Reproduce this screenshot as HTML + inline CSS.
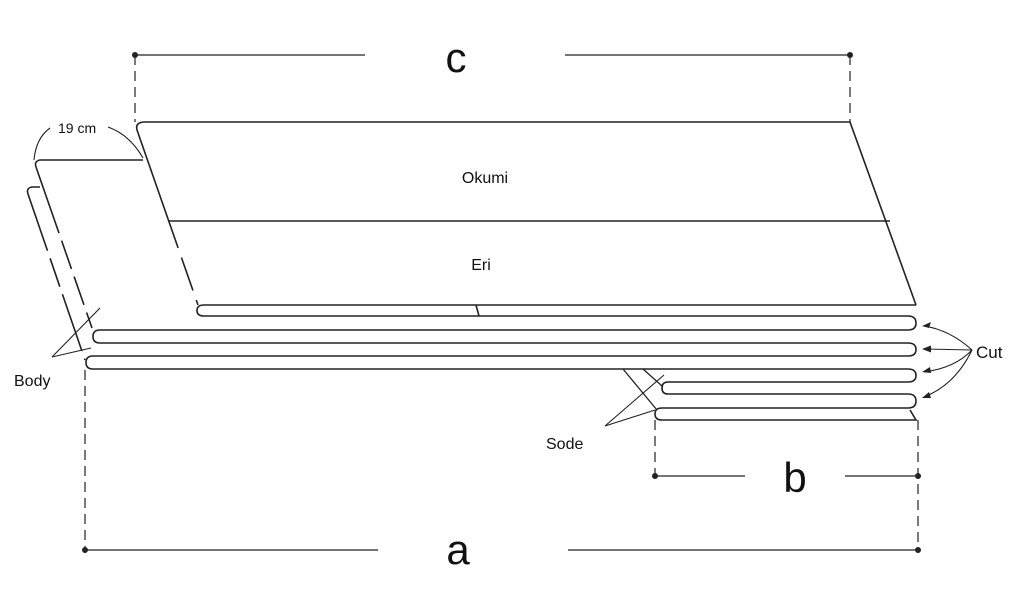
<!DOCTYPE html>
<html><head><meta charset="utf-8"><style>
html,body{margin:0;padding:0;background:#fff;width:1024px;height:609px;overflow:hidden}
svg{display:block}
text{font-family:"Liberation Sans",sans-serif;fill:#111}
</style></head><body>
<svg width="1024" height="609" viewBox="0 0 1024 609" xmlns="http://www.w3.org/2000/svg">
<g stroke="#222" fill="none" stroke-width="1.6">
<line x1="135" y1="55" x2="365" y2="55" stroke-width="1.2"/>
<line x1="565" y1="55" x2="850" y2="55" stroke-width="1.2"/>
<line x1="135" y1="55" x2="135" y2="122" stroke-dasharray="10,6" stroke-width="1.2"/>
<line x1="850" y1="55" x2="850" y2="122" stroke-dasharray="10,6" stroke-width="1.2"/>
<line x1="85" y1="550" x2="378" y2="550" stroke-width="1.2"/>
<line x1="568" y1="550" x2="918" y2="550" stroke-width="1.2"/>
<line x1="85" y1="370" x2="85" y2="550" stroke-dasharray="10,6" stroke-width="1.2"/>
<line x1="918" y1="420" x2="918" y2="550" stroke-dasharray="10,6" stroke-width="1.2"/>
<line x1="655" y1="476" x2="745" y2="476" stroke-width="1.2"/>
<line x1="845" y1="476" x2="918" y2="476" stroke-width="1.2"/>
<line x1="655" y1="420" x2="655" y2="476" stroke-dasharray="10,6" stroke-width="1.2"/>

<path d="M40 187 L32 187 Q26 188 28 194"/>
<line x1="28" y1="194" x2="85" y2="360" stroke-dasharray="60,8,30,8,60,8,200"/>
<path d="M143 160 L40 160 Q34 161 36 167"/>
<line x1="36" y1="167" x2="92" y2="328" stroke-dasharray="70,8,30,8,30,8,300"/>
<path d="M137 130 Q135 122 145 122 L850 122 L916 305"/>
<line x1="137" y1="130" x2="198" y2="305" stroke-dasharray="125,10,35,10,200"/>
<line x1="168" y1="221" x2="890" y2="221"/>
<line x1="476" y1="305" x2="479" y2="316"/>

<path d="M916 305 L204 305 Q197 305 197 310.5 Q197 316 204 316 L908 316
 Q916 316 916 323 Q916 330 908 330 L100 330 Q93 330 93 336.5 Q93 343 100 343 L908 343
 Q916 343 916 349.5 Q916 356 908 356 L93 356 Q86 356 86 362.5 Q86 369 93 369 L908 369
 Q916 369 916 375.5 Q916 382 908 382 L668 382 Q662 382 662 388 Q662 394 668 394 L908 394
 Q916 394 916 401 Q916 408 908 408 L662 408 Q655 408 655 414 Q655 420 662 420 L916 420
 L910 410"/>
<line x1="623" y1="369" x2="657" y2="410" stroke-width="1.3"/>
<line x1="643" y1="369" x2="662" y2="386" stroke-width="1.3"/>

<g stroke-width="1.1">
<path d="M50 128 Q36 138 34 160"/>
<path d="M108 127 Q130 135 143 158"/>
<path d="M52 357 L100 308"/>
<path d="M52 357 L91 348"/>
<path d="M605 426 L664 375"/>
<path d="M605 426 L655 410"/>
<path d="M972 350 Q950 330 924 326"/>
<path d="M972 350 L924 349"/>
<path d="M972 350 Q955 368 924 372"/>
<path d="M972 350 Q955 385 924 397"/>
</g>
</g>
<g fill="#222">
<circle cx="135" cy="55" r="3"/><circle cx="850" cy="55" r="3"/>
<circle cx="85" cy="550" r="3"/><circle cx="918" cy="550" r="3"/>
<circle cx="655" cy="476" r="3"/><circle cx="918" cy="476" r="3"/>
<path d="M922 326 l9 -4 l-2 6z"/>
<path d="M922 349 l9 -3.5 l0 7z"/>
<path d="M922 372 l8 -5 l1 6z"/>
<path d="M922 398 l7 -6 l2 6z"/>
</g>
<text x="456" y="72" font-size="42" text-anchor="middle">c</text>
<text x="458" y="564" font-size="42" text-anchor="middle">a</text>
<text x="795" y="492" font-size="42" text-anchor="middle">b</text>
<text x="485" y="183" font-size="16" text-anchor="middle">Okumi</text>
<text x="481" y="270" font-size="16" text-anchor="middle">Eri</text>
<text x="14" y="386" font-size="16">Body</text>
<text x="546" y="449" font-size="16">Sode</text>
<text x="976" y="358" font-size="17">Cut</text>
<text x="58" y="133" font-size="14">19 cm</text>
</svg>
</body></html>
